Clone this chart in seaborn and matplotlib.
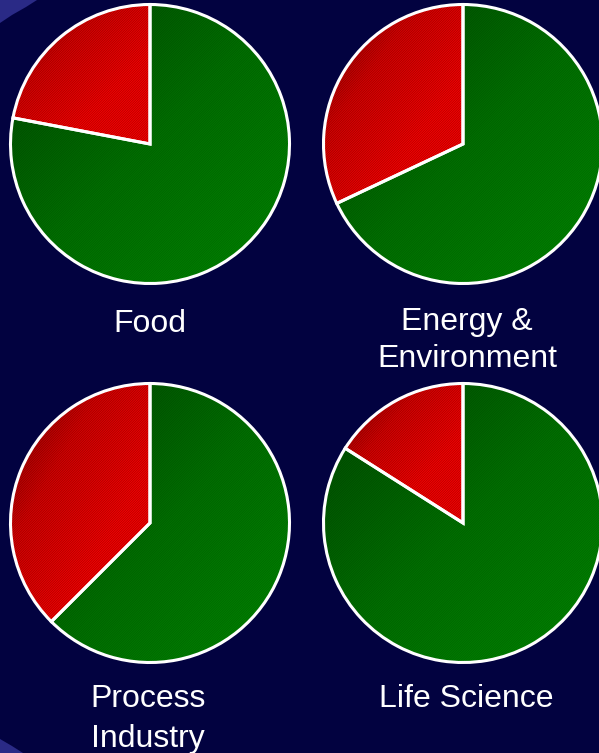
import numpy as np
import matplotlib
matplotlib.use("Agg")
import matplotlib.pyplot as plt
from matplotlib.colors import LinearSegmentedColormap
from matplotlib.patches import Polygon, Wedge
import seaborn as sns

# Share of each sector: red slice first, green remainder
sectors = ["Food", "Energy &\nEnvironment", "Process\nIndustry", "Life Science"]
red_share = [22, 32, 37.5, 16]
green_share = [78, 68, 62.5, 84]

W, H = 599, 753
BG = "#020240"
SWOOSH = "#2a2a86"

sns.set_theme(style="dark")
plt.rcParams["font.family"] = ["Liberation Sans", "DejaVu Sans"]
plt.rcParams["hatch.linewidth"] = 0.6

fig = plt.figure(figsize=(W / 100, H / 100), dpi=100, facecolor=BG)
ax = fig.add_axes([0, 0, 1, 1])
ax.set_facecolor(BG)

# light swoosh in the corners of the slide
ax.add_patch(Polygon([(0, H), (37, H), (26, H - 7), (12, H - 15), (0, H - 23)],
                     closed=True, facecolor=SWOOSH, edgecolor="none", zorder=0))
ax.add_patch(Polygon([(0, 0), (23, 0), (12, 7), (0, 14)],
                     closed=True, facecolor=SWOOSH, edgecolor="none", zorder=0))

red_cmap = LinearSegmentedColormap.from_list("red", ["#860000", "#e00000", "#ff0000", "#ff0000"])
green_cmap = LinearSegmentedColormap.from_list("green", ["#004c00", "#007400", "#008a00"])
tex_alpha = [0.3, 0.18]

centers = [(150, H - 144), (463, H - 144), (150, H - 523), (463, H - 523)]
radius = 139.5
label_pos = [(150, [332]), (467, [330, 367]), (148, [707, 747]), (466, [707])]

n = 200
ii, jj = np.mgrid[0:n, 0:n]
grad = (ii + jj) / (2 * (n - 1))

for k, name in enumerate(sectors):
    cx, cy = centers[k]
    wedges, _ = ax.pie([red_share[k], green_share[k]], center=(cx, cy), radius=radius,
                       startangle=90, counterclock=True, colors=["#ff0000", "#007a00"],
                       wedgeprops=dict(edgecolor="white", linewidth=2.2, zorder=3))
    for w, cmap, a in zip(wedges, [red_cmap, green_cmap], tex_alpha):
        w.set_facecolor("none")
        bb = w.get_path().get_extents(w.get_patch_transform())
        im = ax.imshow(grad, cmap=cmap, extent=(bb.x0, bb.x1, bb.y0, bb.y1),
                       origin="upper", zorder=1, interpolation="bilinear")
        im.set_clip_path(w)
        # fine diagonal texture
        tex = Wedge((cx, cy), radius, w.theta1, w.theta2, facecolor="none",
                    edgecolor=(0, 0, 0, a), hatch="/" * 14, linewidth=0, zorder=2)
        ax.add_patch(tex)
    x, baselines = label_pos[k]
    for line, b in zip(name.split("\n"), baselines):
        ax.text(x, H - b, line, ha="center", va="baseline", color="#ffffff",
                fontsize=23, zorder=4)

ax.set_xlim(0, W)
ax.set_ylim(0, H)
ax.set_aspect("auto")
ax.axis("off")

fig.savefig("out.png", dpi=100, facecolor=BG)
